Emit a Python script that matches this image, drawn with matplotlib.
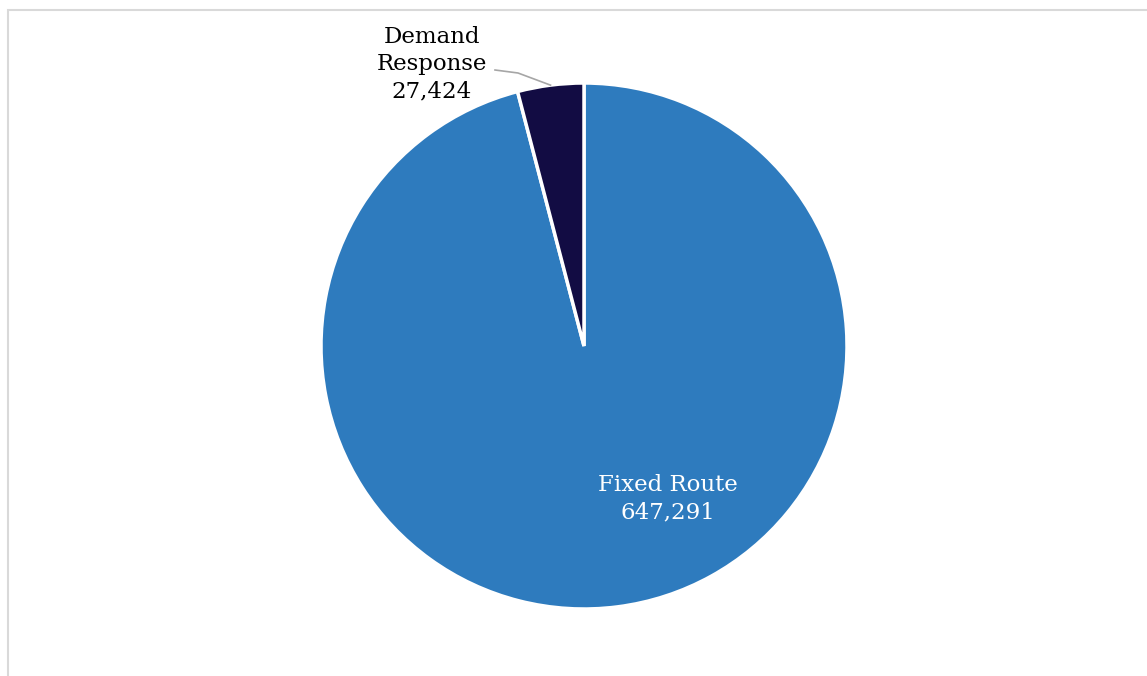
import numpy as np
import matplotlib.pyplot as plt
from matplotlib.patches import Rectangle

# data
labels = ["Fixed Route", "Demand Response"]
values = [647291, 27424]
colors = ["#2E7BBE", "#120C43"]

plt.rcParams['font.family'] = ['DejaVu Serif']

W, H = 1147, 676
fig = plt.figure(figsize=(W / 100, H / 100), dpi=100)
ax = fig.add_axes([0, 0, 1, 1])
ax.set_xlim(0, W)
ax.set_ylim(0, H)
ax.set_aspect('equal')
ax.axis('off')

cx, cy, r = 584, H - 346, 263
wedges, _ = ax.pie(values, colors=colors, startangle=90, counterclock=False,
                   center=(cx, cy), radius=r,
                   wedgeprops=dict(edgecolor='white', linewidth=2.5))
ax.set_xlim(0, W)
ax.set_ylim(0, H)

# chart frame (partly cut off)
fig.patches.append(Rectangle((8 / W, -0.1), 1.2, (H - 10) / H + 0.1,
                             transform=fig.transFigure, fill=False,
                             edgecolor='#D9D9D9', linewidth=1.5))

def fmt(v):
    return f"{v:,}"

# Fixed Route label inside
ax.text(668, H - 499, f"{labels[0]}\n{fmt(values[0])}", color='white',
        ha='center', va='center', fontsize=16.5, linespacing=1.32)

# Demand Response label outside with leader line
w = wedges[1]
mid = np.deg2rad((w.theta1 + w.theta2) / 2)
ex, ey = cx + r * np.cos(mid), cy + r * np.sin(mid)
ax.plot([ex, 518, 495], [ey, H - 73, H - 70], color='#A6A6A6', lw=1.2)
ax.text(432, H - 64, f"Demand\nResponse\n{fmt(values[1])}", color='black',
        ha='center', va='center', fontsize=16.5, linespacing=1.32)

fig.savefig("out.png", dpi=100)
